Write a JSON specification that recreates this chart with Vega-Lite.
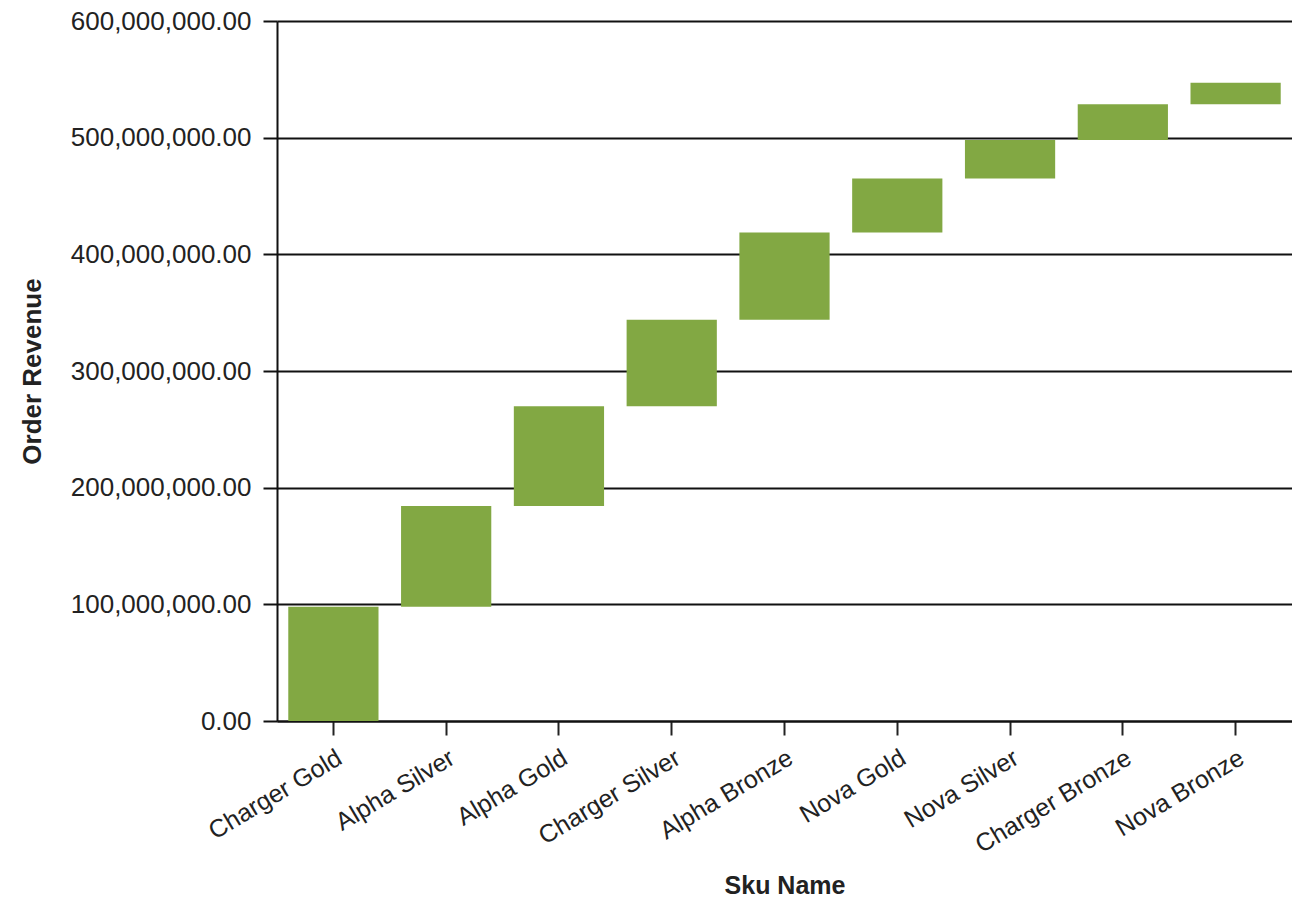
{
  "$schema": "https://vega.github.io/schema/vega-lite/v6.json",
  "width": 1015,
  "height": 700,
  "autosize": {"type": "none"},
  "padding": {"left": 277, "top": 21, "right": 0, "bottom": 202},
  "background": "#ffffff",
  "config": {
    "font": "Liberation Sans",
    "view": {"stroke": null}
  },
  "data": {
    "values": [
      {"sku": "Charger Gold", "start": 0, "end": 98000000},
      {"sku": "Alpha Silver", "start": 98000000, "end": 184300000},
      {"sku": "Alpha Gold", "start": 184300000, "end": 269800000},
      {"sku": "Charger Silver", "start": 269800000, "end": 344000000},
      {"sku": "Alpha Bronze", "start": 344000000, "end": 418700000},
      {"sku": "Nova Gold", "start": 418700000, "end": 464900000},
      {"sku": "Nova Silver", "start": 464900000, "end": 497900000},
      {"sku": "Charger Bronze", "start": 497900000, "end": 528600000},
      {"sku": "Nova Bronze", "start": 528600000, "end": 547000000}
    ]
  },
  "mark": {"type": "bar", "color": "#82a843"},
  "encoding": {
    "x": {
      "field": "sku",
      "type": "nominal",
      "sort": null,
      "title": "Sku Name",
      "scale": {"paddingInner": 0.2, "paddingOuter": 0.1},
      "axis": {
        "labelAngle": -31,
        "labelAlign": "right",
        "labelBaseline": "top",
        "labelFontSize": 25,
        "labelLimit": 0,
        "labelColor": "#222222",
        "labelPadding": 10,
        "tickSize": 14,
        "tickColor": "#222222",
        "tickWidth": 2,
        "domainColor": "#111111",
        "domainWidth": 2,
        "titleFontSize": 25,
        "titleFontWeight": "bold",
        "titleColor": "#222222",
        "titlePadding": 16
      }
    },
    "y": {
      "field": "start",
      "type": "quantitative",
      "title": "Order Revenue",
      "scale": {"domain": [0, 600000000], "nice": false},
      "axis": {
        "values": [0, 100000000, 200000000, 300000000, 400000000, 500000000, 600000000],
        "format": ",.2f",
        "labelFontSize": 26,
        "labelLimit": 0,
        "labelColor": "#222222",
        "labelPadding": 12,
        "tickSize": 14,
        "tickColor": "#111111",
        "tickWidth": 2,
        "domainColor": "#111111",
        "domainWidth": 2,
        "grid": true,
        "gridColor": "#111111",
        "gridWidth": 2,
        "gridOpacity": 1,
        "titleFontSize": 26,
        "titleFontWeight": "bold",
        "titleColor": "#222222",
        "titlePadding": 32
      }
    },
    "y2": {"field": "end"}
  }
}
